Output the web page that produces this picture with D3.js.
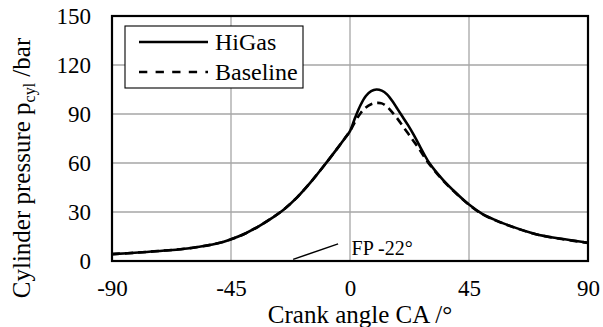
<!DOCTYPE html>
<html><head><meta charset="utf-8">
<script src="https://cdn.jsdelivr.net/npm/d3@7"></script>
<style>
html,body{margin:0;padding:0;background:#fff;}
svg{display:block;font-family:"Liberation Serif","Times New Roman",serif;}
</style></head>
<body>
<svg id="chart" width="603" height="327"></svg>
<script>
// ---- data ----
const caHiGas = [-90,-80,-70,-60,-50,-45,-40,-35,-30,-25,-20,-15,-10,-5,-2,0,2,4,6,8,10,12,14,16,18,20,22,24,26,28,30,35,40,45,50,55,60,70,80,90];
const pHiGas  = [4.2,5.2,6.4,8.0,10.8,13.3,16.5,20.8,25.8,31.6,39,48,58,68.5,75,79.5,88,95.5,101,104,105,104.3,102,98,93,88,83,77.5,71.5,65.5,60,50,41.8,34.6,28.9,25,21.8,16.6,13.6,11.2];
const caBase  = [-90,-80,-70,-60,-50,-45,-40,-35,-30,-25,-20,-15,-10,-5,-2,0,2,4,6,8,10,12,14,16,18,20,22,24,26,28,30,35,40,45,50,55,60,70,80,90];
const pBase   = [4.2,5.2,6.4,8.0,10.8,13.3,16.5,20.8,25.8,31.6,39,48,58,68.5,75,79.5,85.5,90.5,94,96,96.8,96.5,94.5,91,87,82.5,78,73.5,69,64,59.3,49.6,41.6,34.4,28.7,24.9,21.7,16.5,13.5,11.1];
const seriesNames = ["HiGas","Baseline"];
const xTicks = [-90,-45,0,45,90];
const yTicks = [0,30,60,90,120,150];
const fpLineCA = [-21.5,-4.5];
const fpLineP  = [1.0,10.5];
const fpLabel = "FP -22°";
const fpLabelPos = [0.6,3.7];
const xTitle = "Crank angle CA /°";

// ---- layout ----
const svg = d3.select("#chart");
const L = 112, R = 588, T = 16, B = 261;
const x = d3.scaleLinear().domain([-90,90]).range([L,R]);
const y = d3.scaleLinear().domain([0,150]).range([B,T]);

// grid
const g = svg.append("g");
g.selectAll("line.gx").data(xTicks.slice(1,-1)).enter().append("line")
  .attr("x1",d=>x(d)).attr("x2",d=>x(d)).attr("y1",T).attr("y2",B)
  .attr("stroke","#a6a6a6").attr("stroke-width",1.3);
g.selectAll("line.gy").data(yTicks.slice(1,-1)).enter().append("line")
  .attr("y1",d=>y(d)).attr("y2",d=>y(d)).attr("x1",L).attr("x2",R)
  .attr("stroke","#a6a6a6").attr("stroke-width",1.3);

// axes (labels only)
const ya = svg.append("g").attr("transform",`translate(${L},0)`)
  .call(d3.axisLeft(y).tickValues(yTicks).tickSize(0).tickPadding(21).tickFormat(d=>String(d)));
const xa = svg.append("g").attr("transform",`translate(0,${B})`)
  .call(d3.axisBottom(x).tickValues(xTicks).tickSize(0).tickPadding(18.5).tickFormat(d=>String(d)));
[ya,xa].forEach(a=>{
  a.select(".domain").remove();
  a.selectAll("text").attr("font-family","Liberation Serif").attr("font-size",23).attr("fill","#000");
});

// curves
const lineGen = d3.line().x(d=>x(d[0])).y(d=>y(d[1])).curve(d3.curveCatmullRom.alpha(0.5));
const hiData = caHiGas.map((c,i)=>[c,pHiGas[i]]);
const baseData = caBase.map((c,i)=>[c,pBase[i]]);
svg.append("clipPath").attr("id","clp").append("rect")
  .attr("x",L).attr("y",T).attr("width",R-L).attr("height",B-T);
svg.append("path").datum(hiData).attr("d",lineGen).attr("fill","none")
  .attr("stroke","#000").attr("stroke-width",2.6).attr("clip-path","url(#clp)");
svg.append("path").datum(baseData).attr("d",lineGen).attr("fill","none")
  .attr("stroke","#000").attr("stroke-width",2.6).attr("stroke-dasharray","8,5").attr("clip-path","url(#clp)");

// FP annotation
svg.append("line")
  .attr("x1",x(fpLineCA[0])).attr("y1",y(fpLineP[0]))
  .attr("x2",x(fpLineCA[1])).attr("y2",y(fpLineP[1]))
  .attr("stroke","#000").attr("stroke-width",1.5);
svg.append("text").attr("x",x(fpLabelPos[0])).attr("y",y(fpLabelPos[1]))
  .attr("font-size",20).text(fpLabel);

// frame
svg.append("rect").attr("x",L).attr("y",T).attr("width",R-L).attr("height",B-T)
  .attr("fill","none").attr("stroke","#000").attr("stroke-width",2.2);

// legend
const lg = svg.append("g");
lg.append("rect").attr("x",125).attr("y",26).attr("width",178).attr("height",62)
  .attr("fill","#fff").attr("stroke","#000").attr("stroke-width",1.1);
const legY = [42,72];
seriesNames.forEach((n,i)=>{
  lg.append("line").attr("x1",139).attr("x2",208).attr("y1",legY[i]).attr("y2",legY[i])
    .attr("stroke","#000").attr("stroke-width",2.4)
    .attr("stroke-dasharray", i===1 ? "8.3,8.3" : null);
  lg.append("text").attr("x",215).attr("y",legY[i]+8).attr("font-size",24).text(n);
});

// axis titles
svg.append("text").attr("x",360).attr("y",323).attr("text-anchor","middle")
  .attr("font-size",25).text(xTitle);
const yt = svg.append("text").attr("transform","translate(30,168) rotate(-90)")
  .attr("text-anchor","middle").attr("font-size",25);
yt.append("tspan").text("Cylinder pressure p");
yt.append("tspan").attr("font-size",16).attr("dy",5).text("cyl");
yt.append("tspan").attr("dy",-5).text(" /bar");
</script>
</body></html>
